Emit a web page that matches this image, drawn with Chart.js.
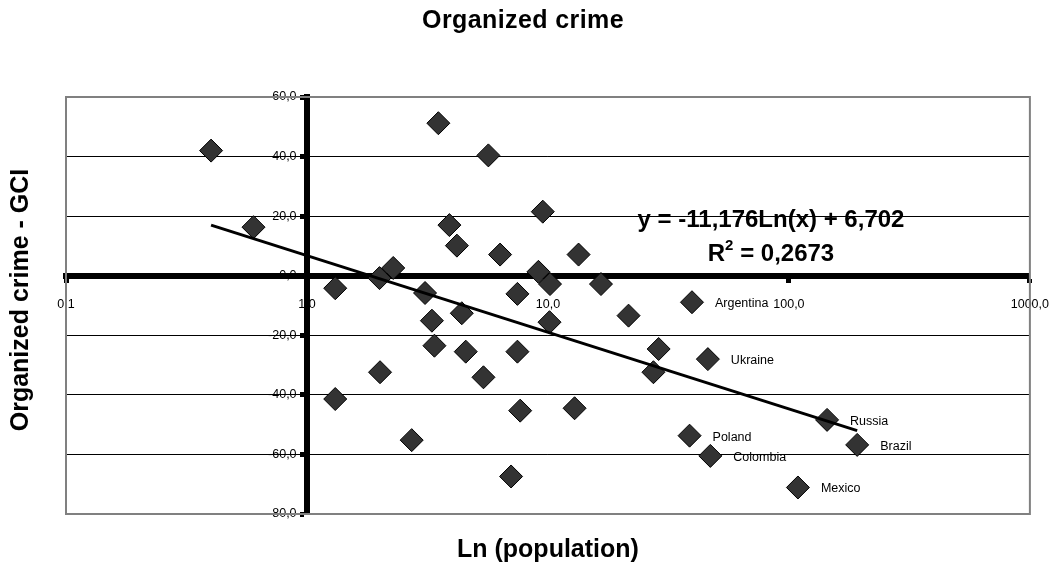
<!DOCTYPE html>
<html>
<head>
<meta charset="utf-8">
<script src="https://cdn.jsdelivr.net/npm/chart.js@4.4.1/dist/chart.umd.min.js"></script>
<style>
  html, body { margin: 0; padding: 0; background: #fff; }
  #wrap { width: 1054px; height: 567px; }
</style>
</head>
<body>
<div id="wrap"><canvas id="myChart"></canvas></div>
<script>
// values (x = population, y = GCI score)
const population = [0.40, 0.60, 1.31, 1.31, 2.00, 2.01, 2.28, 2.72, 3.09, 3.30,
                    3.38, 3.51, 3.90, 4.19, 4.39, 4.56, 5.40, 5.66, 6.33, 7.03,
                    7.47, 7.47, 7.67, 9.13, 9.52, 10.2, 10.15, 12.9, 13.4, 16.6,
                    21.6, 27.4, 28.8, 39.6, 38.7, 46.1, 47.2, 109, 144, 192];
const gci = [42.0, 16.3, -4.2, -41.4, -0.8, -32.4, 2.6, -55.2, -5.8, -15.1,
             -23.5, 51.2, 17.0, 10.1, -12.6, -25.5, -34.1, 40.4, 7.1, -67.4,
             -6.1, -25.5, -45.3, 1.3, 21.5, -2.8, -15.6, -44.5, 7.1, -2.8,
             -13.4, -32.4, -24.6, -8.9, -53.7, -28.0, -60.5, -71.1, -48.4, -56.8];
const countries = ['', '', '', '', '', '', '', '', '', '',
                   '', '', '', '', '', '', '', '', '', '',
                   '', '', '', '', '', '', '', '', '', '',
                   '', '', '', 'Argentina', 'Poland', 'Ukraine', 'Colombia', 'Mexico', 'Russia', 'Brazil'];

// trend line end points
const trendX = [0.4, 192];
const trendY = [17.0, -52.0];

const xTickValues = [0.1, 1, 10, 100, 1000];
const xTickLabels = ['0,1', '1,0', '10,0', '100,0', '1000,0'];
const yTickValues = [-80, -60, -40, -20, 0, 20, 40, 60];
const yTickLabels = ['-80,0', '-60,0', '-40,0', '-20,0', '0,0', '20,0', '40,0', '60,0'];

const chartTitle = 'Organized crime';
const xTitle = 'Ln (population)';
const yTitle = 'Organized crime - GCI';
const equationText = 'y = -11,176Ln(x) + 6,702';
const r2Value = '0,2673';

const FONT = "'Liberation Sans', Arial, sans-serif";

const points = population.map((p, i) => ({ x: p, y: gci[i] }));
const trend = trendX.map((x, i) => ({ x: x, y: trendY[i] }));

// grey frame round the plot area
const plotFrame = {
  id: 'plotFrame',
  beforeDatasetsDraw(chart) {
    const { ctx, chartArea: a } = chart;
    ctx.save();
    ctx.strokeStyle = '#808080';
    ctx.lineWidth = 2;
    ctx.strokeRect(a.left, a.top, a.right - a.left, a.bottom - a.top);
    ctx.restore();
  }
};

// titles, equation and country names
const textLayer = {
  id: 'textLayer',
  afterDraw(chart) {
    const ctx = chart.ctx;
    const a = chart.chartArea;
    ctx.save();
    ctx.fillStyle = '#000';
    ctx.textBaseline = 'middle';
    ctx.textAlign = 'center';

    ctx.font = 'bold 25px ' + FONT;
    ctx.letterSpacing = '0.4px';
    ctx.fillText(chartTitle, 523, 21);
    ctx.letterSpacing = '0px';
    ctx.fillText(xTitle, (a.left + a.right) / 2, 550);

    ctx.save();
    ctx.translate(21, 300);
    ctx.rotate(-Math.PI / 2);
    ctx.fillText(yTitle, 0, 0);
    ctx.restore();

    // regression text
    ctx.font = 'bold 24px ' + FONT;
    ctx.fillText(equationText, 771, 220);

    const rest = ' = ' + r2Value;
    const wR = ctx.measureText('R').width;
    const wRest = ctx.measureText(rest).width;
    ctx.font = 'bold 15px ' + FONT;
    const w2 = ctx.measureText('2').width;
    const x0 = 771 - (wR + w2 + wRest) / 2;
    ctx.textAlign = 'left';
    ctx.font = 'bold 24px ' + FONT;
    ctx.fillText('R', x0, 254);
    ctx.font = 'bold 15px ' + FONT;
    ctx.fillText('2', x0 + wR, 246);
    ctx.font = 'bold 24px ' + FONT;
    ctx.fillText(rest, x0 + wR + w2, 254);

    // country labels
    ctx.font = '12.5px ' + FONT;
    const meta = chart.getDatasetMeta(1);
    meta.data.forEach((pt, i) => {
      if (countries[i]) ctx.fillText(countries[i], pt.x + 23, pt.y + 1.5);
    });
    ctx.restore();
  }
};

const ctx = document.getElementById('myChart');

const myChart = new Chart(ctx, {
  type: 'scatter',
  data: {
    datasets: [{
      label: 'Trend',
      data: trend,
      showLine: true,
      borderColor: '#000',
      borderWidth: 3,
      pointRadius: 0,
      order: 0
    }, {
      label: 'Countries',
      data: points,
      pointStyle: 'rectRot',
      pointRadius: 11.5,
      backgroundColor: '#333333',
      borderColor: '#000',
      borderWidth: 1,
      order: 1
    }]
  },
  options: {
    responsive: true,
    maintainAspectRatio: false,
    animation: false,
    layout: { padding: { left: 66, right: 24, top: 97, bottom: 53 } },
    plugins: {
      legend: { display: false },
      tooltip: { enabled: false }
    },
    scales: {
      x: {
        type: 'logarithmic',
        position: { y: 0 },
        min: 0.1,
        max: 1000,
        afterBuildTicks: scale => {
          scale.ticks = xTickValues.map(v => ({ value: v }));
        },
        ticks: {
          callback: (v, i) => xTickLabels[i],
          autoSkip: false,
          maxRotation: 0,
          padding: 5,
          color: '#000',
          font: { family: FONT, size: 12.5, lineHeight: 3.15 }
        },
        grid: { drawOnChartArea: false, tickLength: 4, tickWidth: 5, tickColor: '#000' },
        border: { color: '#000', width: 6 }
      },
      y: {
        type: 'linear',
        position: { x: 1 },
        min: -80,
        max: 60,
        afterBuildTicks: scale => {
          scale.ticks = yTickValues.map(v => ({ value: v }));
        },
        ticks: {
          // labels sit on the axis line, trailing spaces push them clear of it
          callback: (v, i) => yTickLabels[i] + '   ',
          color: '#000',
          font: { family: FONT, size: 12.5 }
        },
        grid: {
          color: c => (c.tick && (c.tick.value === 60 || c.tick.value === -80)) ? 'rgba(0,0,0,0)' : '#000',
          lineWidth: 1,
          tickLength: 4,
          tickWidth: 5,
          tickColor: '#000'
        },
        border: { color: '#000', width: 6 }
      }
    }
  },
  plugins: [plotFrame, textLayer]
});
</script>
</body>
</html>
